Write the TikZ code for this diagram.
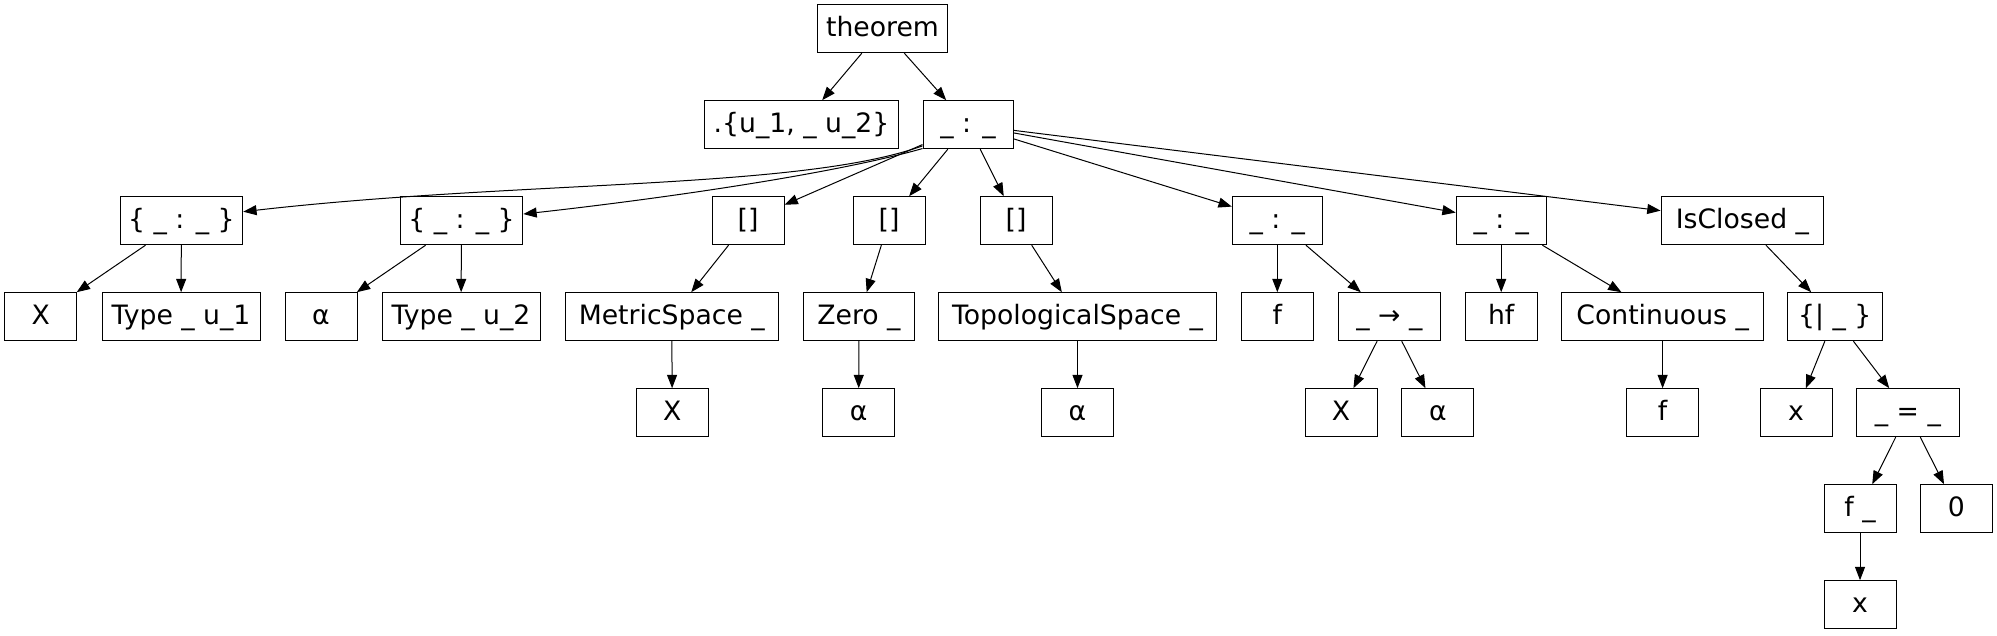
\documentclass[tikz,border=0pt]{standalone}
\usepackage{fontspec}
\setmainfont{DejaVu Sans}
\usetikzlibrary{arrows.meta}
\tikzset{
  box/.style={draw=black, line width=0.75pt, rectangle, minimum height=36pt, minimum width=54pt,
    inner sep=2pt, text height=15pt, text depth=4pt, font=\fontsize{20pt}{24pt}\selectfont},
  edge/.style={draw=black, line width=0.75pt, -{Triangle[length=10pt,width=7.5pt]}}
}
\begin{document}
\begin{tikzpicture}[x=0.75pt,y=-0.75pt]
\useasboundingbox (0,0) rectangle (1997,635);
% row 0
\node[box, minimum width=98pt] (th) at (882.5,28.7) {theorem};
% row 1
\node[box, minimum width=146pt] (u12) at (801.5,124.7) {.\{u\_1, \_ u\_2\}};
\node[box, minimum width=67.5pt] (c0) at (968,124.7) {\_ : \_};
% row 2
\node[box, minimum width=92pt] (s1) at (181.4,220.7) {\{ \_ : \_ \}};
\node[box, minimum width=92pt] (s2) at (461.5,220.7) {\{ \_ : \_ \}};
\node[box] (b1) at (748,220.7) {[]};
\node[box] (b2) at (889,220.7) {[]};
\node[box] (b3) at (1016,220.7) {[]};
\node[box, minimum width=67.5pt] (ca) at (1277.3,220.7) {\_ : \_};
\node[box, minimum width=67.5pt] (cb) at (1501.2,220.7) {\_ : \_};
\node[box, minimum width=122pt] (ic) at (1742.4,220.7) {IsClosed \_};
% row 3
\node[box] (x1) at (40.8,316.7) {X};
\node[box, minimum width=118.5pt] (t1) at (181,316.7) {Type \_ u\_1};
\node[box] (al1) at (321,316.7) {α};
\node[box, minimum width=118.5pt] (t2) at (461,316.7) {Type \_ u\_2};
\node[box, minimum width=159.5pt] (ms) at (671.8,316.7) {MetricSpace \_};
\node[box, minimum width=83pt] (ze) at (859,316.7) {Zero \_};
\node[box, minimum width=208pt] (ts) at (1077.5,316.7) {TopologicalSpace \_};
\node[box] (f1) at (1277.3,316.7) {f};
\node[box, minimum width=76.5pt] (ar) at (1389.4,316.7) {\_ → \_};
\node[box] (hf) at (1501.2,316.7) {hf};
\node[box, minimum width=151pt] (co) at (1662.6,316.7) {Continuous \_};
\node[box, minimum width=71pt] (sb) at (1834.7,316.7) {\{| \_ \}};
% row 4
\node[box] (x2) at (672.2,412.7) {X};
\node[box] (al2) at (858.6,412.7) {α};
\node[box] (al3) at (1077.5,412.7) {α};
\node[box] (x3) at (1341.1,412.7) {X};
\node[box] (al4) at (1437.8,412.7) {α};
\node[box] (f2) at (1662.6,412.7) {f};
\node[box] (xx) at (1796,412.7) {x};
\node[box, minimum width=77.5pt] (eq) at (1907.9,412.7) {\_ = \_};
% row 5
\node[box] (fx) at (1860,508.7) {f \_};
\node[box] (z0) at (1956.4,508.7) {0};
% row 6
\node[box] (xx2) at (1860,604.7) {x};
% edges
\draw[edge] (th) -- (u12);
\draw[edge] (th) -- (c0);
\draw[edge] ([yshift=2.5pt]c0.south west) .. controls (800,190) and (520,180) .. ([yshift=6.75pt]s1.east);
\draw[edge] ([yshift=0.5pt]c0.south west) .. controls (830,175) and (650,200) .. ([yshift=5pt]s2.east);
\draw[edge] (c0) -- (b1);
\draw[edge] (c0) -- (b2);
\draw[edge] (c0) -- (b3);
\draw[edge] (c0) -- (ca);
\draw[edge] (c0) -- (cb);
\draw[edge] (c0) -- (ic);
\draw[edge] (s1) -- (x1);
\draw[edge] (s1) -- (t1);
\draw[edge] (s2) -- (al1);
\draw[edge] (s2) -- (t2);
\draw[edge] (b1) -- (ms);
\draw[edge] (b2) -- (ze);
\draw[edge] (b3) -- (ts);
\draw[edge] (ca) -- (f1);
\draw[edge] (ca) -- (ar);
\draw[edge] (cb) -- (hf);
\draw[edge] (cb) -- (co);
\draw[edge] (ic) -- (sb);
\draw[edge] (ms) -- (x2);
\draw[edge] (ze) -- (al2);
\draw[edge] (ts) -- (al3);
\draw[edge] (ar) -- (x3);
\draw[edge] (ar) -- (al4);
\draw[edge] (co) -- (f2);
\draw[edge] (sb) -- (xx);
\draw[edge] (sb) -- (eq);
\draw[edge] (eq) -- (fx);
\draw[edge] (eq) -- (z0);
\draw[edge] (fx) -- (xx2);
\end{tikzpicture}
\end{document}
